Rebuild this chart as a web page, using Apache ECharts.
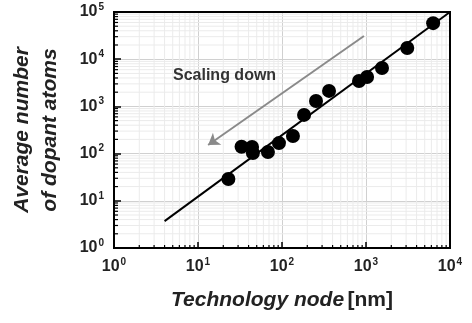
<!DOCTYPE html>
<html>
<head>
<meta charset="utf-8">
<script src="https://cdn.jsdelivr.net/npm/echarts@6/dist/echarts.min.js"></script>
<style>
  html, body { margin: 0; padding: 0; background: #fff; }
  #chart { width: 472px; height: 323px; }
</style>
</head>
<body>
<div id="chart"></div>
<script>
// technology node (nm) vs average number of dopant atoms
var nodeNm = [23, 33, 44, 45, 68, 92, 135, 183, 254, 363, 826, 1030, 1550, 3100, 6300];
var dopants = [29, 140, 138, 103, 108, 167, 236, 660, 1300, 2130, 3450, 4200, 6500, 17300, 58000];

// fitted trend line end points
var fitX = [4, 10000];
var fitY = [3.7, 100000];

// "scaling down" arrow (from, to)
var arrowX = [946, 13.2];
var arrowY = [31000, 152];

// log axes: decades and minor multipliers
var xDecades = [1, 10, 100, 1000];
var yDecades = [1, 10, 100, 1000, 10000];
var minorSteps = [2, 3, 4, 5, 6, 7, 8, 9];

var font = 'Liberation Sans, Arial, sans-serif';

function minorValues(decades) {
    var out = [];
    decades.forEach(function (d) {
        minorSteps.forEach(function (k) { out.push(k * d); });
    });
    return out;
}

function pow10(v) {
    var n = Math.round(Math.log(v) / Math.LN10);
    return '{b|10}{s|' + n + '}';
}
var labelRich = {
    b: { fontSize: 16, fontWeight: 'bold', color: '#222', fontFamily: font },
    s: { fontSize: 10, fontWeight: 'bold', color: '#222', fontFamily: font, padding: [0, 0, 10, 1] }
};

// minor grid line + inner minor tick, placed through the axis scale
function minorRender(isX) {
    return function (params, api) {
        var v = api.value(isX ? 0 : 1);
        var a, b, t1, t2;
        if (isX) {
            a = api.coord([v, 1]);
            b = api.coord([v, 100000]);
            t1 = a; t2 = [a[0], a[1] - 3];
        } else {
            a = api.coord([1, v]);
            b = api.coord([10000, v]);
            t1 = a; t2 = [a[0] + 4, a[1]];
        }
        return {
            type: 'group',
            children: [
                { type: 'line', shape: { x1: a[0], y1: a[1], x2: b[0], y2: b[1] },
                  style: { stroke: '#ebebeb', lineWidth: 1 }, z2: 0 },
                { type: 'line', shape: { x1: t1[0], y1: t1[1], x2: t2[0], y2: t2[1] },
                  style: { stroke: '#000', lineWidth: 1.2 }, z2: 1 }
            ]
        };
    };
}

var myChart = echarts.init(document.getElementById('chart'));
var option = {
    animation: false,
    grid: { left: 114, right: 22, top: 12, bottom: 75, show: true, borderColor: '#000', borderWidth: 2, z: 3 },
    xAxis: {
        type: 'log', logBase: 10, min: 1, max: 10000,
        name: '{i|Technology node} {n|[nm]}',
        nameLocation: 'middle', nameGap: 42,
        nameTextStyle: {
            rich: {
                i: { fontSize: 21, fontWeight: 'bold', fontStyle: 'italic', color: '#222', fontFamily: font },
                n: { fontSize: 21, fontWeight: 'bold', color: '#222', fontFamily: font }
            }
        },
        axisLine: { lineStyle: { color: '#000', width: 2 } },
        axisTick: { inside: true, length: 6, lineStyle: { color: '#000', width: 1.5 } },
        splitLine: { show: true, lineStyle: { color: '#d0d0d0', width: 1 } },
        axisLabel: { margin: 9, formatter: pow10, rich: labelRich }
    },
    yAxis: {
        type: 'log', logBase: 10, min: 1, max: 100000,
        name: 'Average number\nof dopant atoms',
        nameLocation: 'middle', nameGap: 50,
        nameTextStyle: {
            fontSize: 21, fontWeight: 'bold', fontStyle: 'italic', color: '#222',
            fontFamily: font, lineHeight: 28
        },
        axisLine: { lineStyle: { color: '#000', width: 2 } },
        axisTick: { inside: true, length: 7, lineStyle: { color: '#000', width: 1.5 } },
        splitLine: { show: true, lineStyle: { color: '#d0d0d0', width: 1 } },
        axisLabel: { margin: 10, formatter: pow10, rich: labelRich }
    },
    series: [
        {
            name: 'xMinor',
            type: 'custom',
            silent: true,
            clip: false,
            z: 0,
            renderItem: minorRender(true),
            data: minorValues(xDecades).map(function (v) { return [v, 1]; })
        },
        {
            name: 'yMinor',
            type: 'custom',
            silent: true,
            clip: false,
            z: 0,
            renderItem: minorRender(false),
            data: minorValues(yDecades).map(function (v) { return [1, v]; })
        },
        {
            name: 'fit',
            type: 'line',
            data: fitX.map(function (x, i) { return [x, fitY[i]]; }),
            symbol: 'none',
            lineStyle: { color: '#000', width: 2 },
            markLine: {
                silent: true,
                symbol: ['none', 'arrow'],
                symbolSize: 11,
                label: { show: false },
                lineStyle: { color: '#8a8a8a', width: 2, type: 'solid' },
                data: [[
                    { coord: [arrowX[0], arrowY[0]] },
                    { coord: [arrowX[1], arrowY[1]] }
                ]]
            }
        },
        {
            name: 'data',
            type: 'scatter',
            data: nodeNm.map(function (x, i) { return [x, dopants[i]]; }),
            symbol: 'circle',
            symbolSize: 14,
            itemStyle: { color: '#000', opacity: 1 }
        }
    ],
    graphic: [{
        type: 'text',
        left: 173, top: 68, z: 100,
        style: { text: 'Scaling down', fontSize: 16, fontWeight: 'bold', fontFamily: font, fill: '#333' }
    }]
};
myChart.setOption(option);
</script>
</body>
</html>
